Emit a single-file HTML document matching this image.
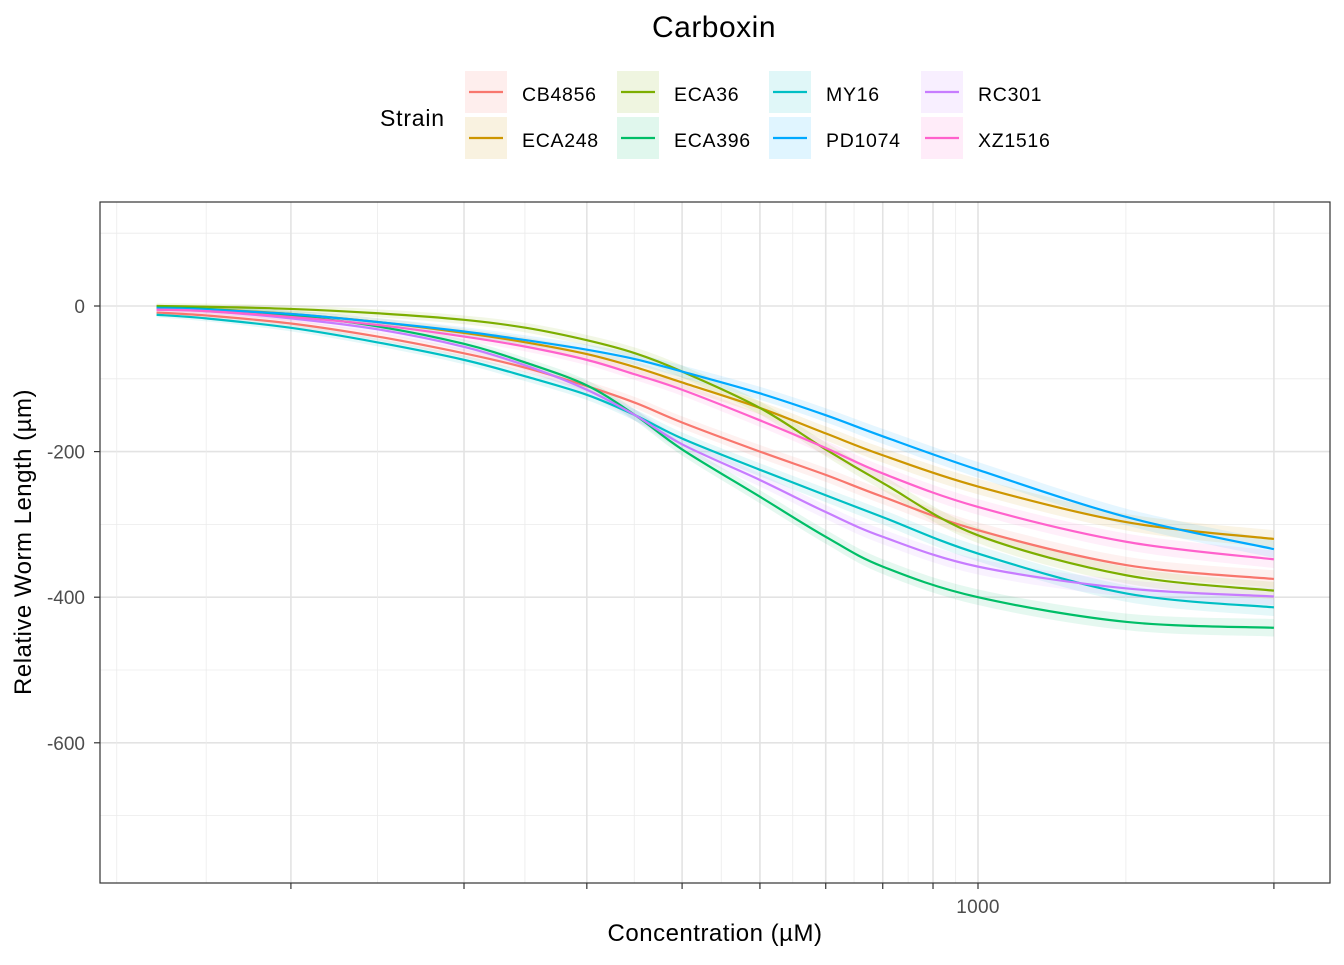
<!DOCTYPE html>
<html><head><meta charset="utf-8"><style>
body{margin:0;background:#fff;font-family:"Liberation Sans",Arial,sans-serif}
svg text{font-family:"Liberation Sans",Arial,sans-serif}
</style></head><body>
<svg id="chart" width="1344" height="960" xmlns="http://www.w3.org/2000/svg">
<text x="714" y="37" font-size="30" letter-spacing="0.5" text-anchor="middle" fill="#000">Carboxin</text>
<g id="legend">
<text x="380" y="126" font-size="23" letter-spacing="0.8" fill="#000">Strain</text>
</g>
<rect x="100" y="202" width="1230" height="681" fill="#fff"/>
<g id="grid"></g>
<g id="ribbons"></g>
<g id="lines"></g>
<rect x="100" y="202" width="1230" height="681" fill="none" stroke="#333" stroke-width="1.2"/>
<g id="axes"></g>
<text x="715" y="941" font-size="24" letter-spacing="0.5" text-anchor="middle" fill="#000">Concentration (µM)</text>
<text x="31" y="542" font-size="24" letter-spacing="0.5" text-anchor="middle" fill="#000" transform="rotate(-90 31 542)">Relative Worm Length (µm)</text>
</svg>
<script>
const strains=["CB4856","ECA248","ECA36","ECA396","MY16","PD1074","RC301","XZ1516"];
const colors=["#F8766D","#CD9600","#7CAE00","#00BE67","#00BFC4","#00A9FF","#C77CFF","#FF61CC"];
const conc=[146,164,200,245,300,347,400,448,500,600,700,800,1000,1417,2000];
const vCB4856=[-9,-13,-24,-42,-65,-85,-110,-133,-160,-200,-232,-262,-308,-356,-375];
const vECA248=[-2,-4,-11,-22,-37,-50,-66,-84,-105,-140,-175,-205,-248,-297,-320];
const vECA36=[0,-1,-4,-10,-19,-30,-47,-65,-90,-140,-197,-243,-315,-370,-391];
const vECA396=[-2,-4,-13,-28,-52,-78,-109,-150,-197,-262,-317,-358,-400,-434,-442];
const vMY16=[-12,-17,-30,-50,-74,-97,-122,-150,-182,-225,-260,-290,-340,-395,-414];
const vPD1074=[-3,-5,-11,-22,-35,-47,-60,-73,-90,-120,-150,-179,-225,-290,-334];
const vRC301=[-5,-7,-17,-32,-56,-82,-115,-150,-190,-239,-283,-317,-358,-388,-399];
const vXZ1516=[-5,-7,-15,-26,-42,-56,-74,-94,-115,-157,-195,-230,-276,-324,-348];
const series=[vCB4856,vECA248,vECA36,vECA396,vMY16,vPD1074,vRC301,vXZ1516];
const bandHalf=[12,12,12,12,12,12,12,12];
const yTicks=[0,-200,-400,-600];
const yMinor=[100,-100,-300,-500,-700];
const xMajor=[200,300,400,500,600,700,800,900,1000,2000];
const xMinor=[133,164,245,346,447,548,648,748,849,949,1414];
const xLabels={1000:"1000"};
const NS="http://www.w3.org/2000/svg";
function xs(c){return 978+983*Math.log10(c/1000);}
function ys(v){return 306-v*(145.6/200);}
function mk(tag,attrs,parent){const e=document.createElementNS(NS,tag);for(const k in attrs)e.setAttribute(k,attrs[k]);parent.appendChild(e);return e;}
function smoothBody(pts){let d="";for(let i=0;i<pts.length-1;i++){const p0=pts[Math.max(0,i-1)],p1=pts[i],p2=pts[i+1],p3=pts[Math.min(pts.length-1,i+2)];const c1x=p1[0]+(p2[0]-p0[0])/6,c1y=p1[1]+(p2[1]-p0[1])/6,c2x=p2[0]-(p3[0]-p1[0])/6,c2y=p2[1]-(p3[1]-p1[1])/6;d+=" C"+c1x+","+c1y+" "+c2x+","+c2y+" "+p2[0]+","+p2[1];}return d;}
function smooth(pts){return "M"+pts[0][0]+","+pts[0][1]+smoothBody(pts);}
const grid=document.getElementById('grid'),axes=document.getElementById('axes');
yMinor.forEach(v=>{const g=mk('line',{x1:100,x2:1330,y1:ys(v),y2:ys(v),stroke:"#ebebeb","stroke-width":0.8},grid);

});
yTicks.forEach(v=>{const g=mk('line',{x1:100,x2:1330,y1:ys(v),y2:ys(v),stroke:"#e3e3e3","stroke-width":1.6},grid);


const t=mk('text',{x:85,y:ys(v)+7,"font-size":19,"text-anchor":"end",fill:"#4d4d4d"},axes);t.textContent=v;


const tk=mk('line',{x1:94,x2:100,y1:ys(v),y2:ys(v),stroke:"#333","stroke-width":1.2},axes);

});
xMinor.forEach(c=>{const g=mk('line',{x1:xs(c),x2:xs(c),y1:202,y2:883,stroke:"#ebebeb","stroke-width":0.8},grid);

});
xMajor.forEach(c=>{const g=mk('line',{x1:xs(c),x2:xs(c),y1:202,y2:883,stroke:"#e3e3e3","stroke-width":1.6},grid);


const tk=mk('line',{x1:xs(c),x2:xs(c),y1:883,y2:889,stroke:"#333","stroke-width":1.2},axes);


if(xLabels[c]){const t=mk('text',{x:xs(c),y:913,"font-size":19,"letter-spacing":0.3,"text-anchor":"middle",fill:"#4d4d4d"},axes);t.textContent=xLabels[c];

}});
const rib=document.getElementById('ribbons'),lines=document.getElementById('lines'),leg=document.getElementById('legend');
series.forEach((s,i)=>{
const w=j=>bandHalf[i]*(0.3+0.7*j/(conc.length-1));
const up=conc.map((c,j)=>[xs(c),ys(s[j]+w(j))]);
const lo=conc.map((c,j)=>[xs(c),ys(s[j]-w(j))]).reverse();
const d=smooth(up)+" L"+lo[0][0]+","+lo[0][1]+smoothBody(lo)+" Z";
const r=mk('path',{d:d,fill:colors[i],"fill-opacity":0.1,stroke:"none"},rib);


const p=mk('path',{d:smooth(conc.map((c,j)=>[xs(c),ys(s[j])])),fill:"none",stroke:colors[i],"stroke-width":2.2},lines);


const col=Math.floor(i/2),row=i%2;const kx=465+col*152,ky=71+row*46;
const kb=mk('rect',{x:kx,y:ky,width:42,height:42,fill:colors[i],"fill-opacity":0.12},leg);


const kl=mk('line',{x1:kx+4,x2:kx+38,y1:ky+21,y2:ky+21,stroke:colors[i],"stroke-width":2.2},leg);


const t=mk('text',{x:kx+57,y:ky+30,"font-size":19.5,"letter-spacing":0.7,fill:"#000"},leg);t.textContent=strains[i];


});
</script>
</body></html>
